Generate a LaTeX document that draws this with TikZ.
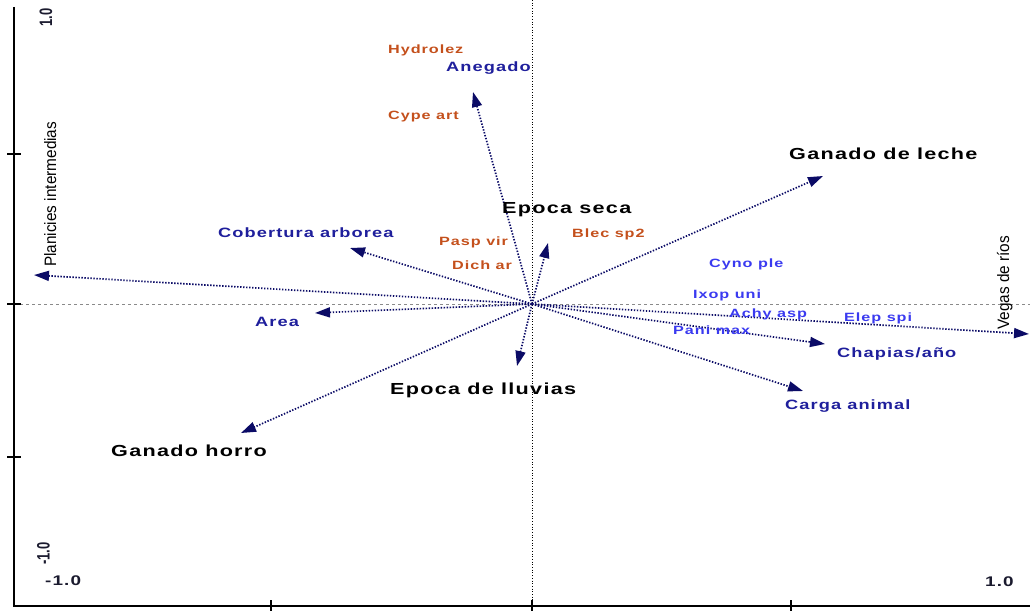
\documentclass[tikz,border=0pt]{standalone}
\usepackage{fontspec}
\setmainfont{Liberation Sans}
\newfontfamily\widefont[FakeStretch=1.35,LetterSpace=8]{Liberation Sans}
\newfontfamily\narrowfont[FakeStretch=0.93]{Liberation Sans}
\newfontfamily\tickfont[FakeStretch=0.72]{Liberation Sans}
\usetikzlibrary{arrows.meta}
\definecolor{vecNavy}{HTML}{0B0B66}
\definecolor{varNavy}{HTML}{1F1F9C}
\definecolor{sppBlue}{HTML}{3A3AF0}
\definecolor{sppOrange}{HTML}{C4501C}
\definecolor{refGray}{HTML}{8A8A8A}
\definecolor{tickInk}{HTML}{1A1A2E}
\tikzset{
  vec/.style={draw=vecNavy, line width=1.7pt, dash pattern=on 1.4pt off 1.6pt,
              -{Triangle[length=15pt,width=10pt]}},
  factorlab/.style={font=\widefont\bfseries\fontsize{16}{18}\selectfont, text=black,
                    inner sep=0pt, anchor=base west},
  varlab/.style={font=\widefont\bfseries\fontsize{13.5}{15}\selectfont, text=varNavy,
                 inner sep=0pt, anchor=base west},
  spplab/.style={font=\widefont\bfseries\fontsize{12}{14}\selectfont, text=#1,
                 inner sep=0pt, anchor=base west},
  axislab/.style={font=\narrowfont\fontsize{16.5}{18}\selectfont, text=black, inner sep=0pt,
                  anchor=base west, rotate=90},
  ticklab/.style={font=\widefont\bfseries\fontsize{14}{16}\selectfont, text=tickInk,
                  inner sep=0pt, anchor=base west},
  tickrot/.style={font=\tickfont\bfseries\fontsize{18}{20}\selectfont, text=tickInk,
                  inner sep=0pt, anchor=base west, rotate=90},
}

\begin{document}
\begin{tikzpicture}[x=1pt, y=-1pt]
\useasboundingbox (0,0) rectangle (1030,610);
\draw[black, line width=0.7pt, dotted] (532,0) -- (532,606);
\draw[refGray, line width=0.7pt, dashed] (14,304) -- (1030,304);
\draw[black, line width=2pt] (14,7) -- (14,606) -- (1030,606);
\foreach \ty in {154,304,457} \draw[black, line width=1.2pt] (7,\ty) -- (21,\ty);
\foreach \tx in {271,532,791} \draw[black, line width=1.2pt] (\tx,600) -- (\tx,612);

\coordinate (O) at (532,304);
\coordinate (planicies) at (34,275);
\coordinate (vegas) at (1029,334);
\coordinate (anegado) at (473,92);
\coordinate (leche) at (823,176);
\coordinate (cobertura) at (350,248);
\coordinate (seca) at (548,243);
\coordinate (area) at (315,313);
\coordinate (horro) at (241,433);
\coordinate (lluvias) at (517,366);
\coordinate (chapias) at (825,344);
\coordinate (carga) at (803,391);
\foreach \v in {planicies,vegas,anegado,leche,cobertura,seca,area,horro,lluvias,chapias,carga}
  \draw[vec] (O) -- (\v);

\node[factorlab] (lecheLab) at (789,159) {Ganado de leche};
\node[factorlab] (secaLab) at (502,213) {Epoca seca};
\node[factorlab] (lluviasLab) at (390,394) {Epoca de lluvias};
\node[factorlab] (horroLab) at (111,456) {Ganado horro};

\node[varlab] (anegadoLab) at (446,71) {Anegado};
\node[varlab] (coberturaLab) at (218,237) {Cobertura arborea};
\node[varlab] (areaLab) at (255,326) {Area};
\node[varlab] (chapiasLab) at (837,357) {Chapias/año};
\node[varlab] (cargaLab) at (785,409) {Carga animal};

\node[spplab=sppBlue] (cyno) at (709,267) {Cyno ple};
\node[spplab=sppBlue] (ixop) at (693,298) {Ixop uni};
\node[spplab=sppBlue] (achy) at (729,317) {Achy asp};
\node[spplab=sppBlue] (elep) at (844,321) {Elep spi};
\node[spplab=sppBlue] (pani) at (673,334) {Pani max};
\node[spplab=sppOrange] (hydro) at (388,53) {Hydrolez};
\node[spplab=sppOrange] (cype) at (388,119) {Cype art};
\node[spplab=sppOrange] (pasp) at (439,245) {Pasp vir};
\node[spplab=sppOrange] (dich) at (452,269) {Dich ar};
\node[spplab=sppOrange] (blec) at (572,237) {Blec sp2};

\node[axislab] (planiciesLab) at (56,267) {Planicies intermedias};
\node[axislab] (vegasLab) at (1009,330) {Vegas de ríos};

\node[tickrot] (ytop) at (52,27) {1.0};
\node[tickrot] (ybot) at (49.5,565) {-1.0};
\node[ticklab] (xleft) at (45,585) {-1.0};
\node[ticklab] (xright) at (985,586) {1.0};
\end{tikzpicture}
\end{document}
